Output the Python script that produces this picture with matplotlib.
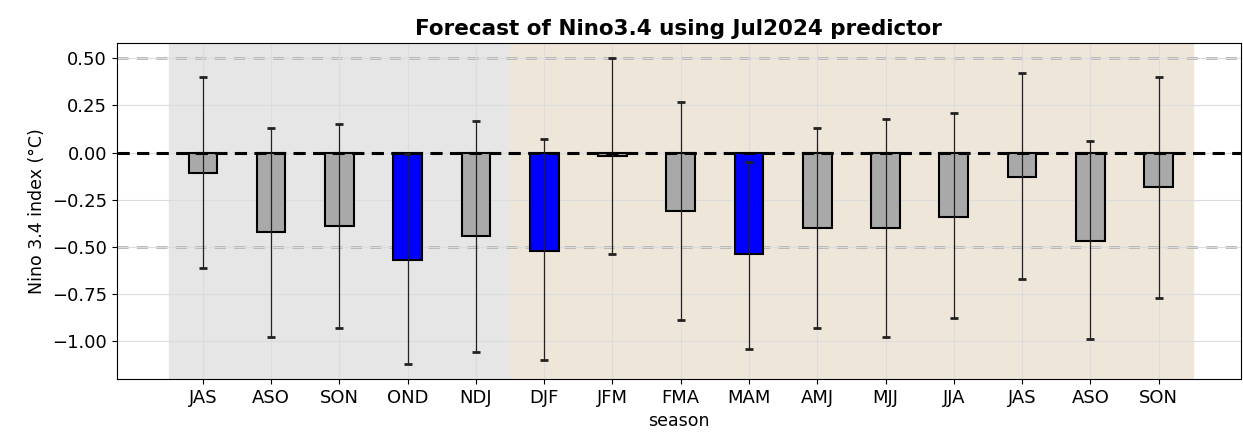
import numpy as np
import matplotlib.pyplot as plt

# Nino3.4 forecast by season, Jul2024 predictor
seasons = ['JAS', 'ASO', 'SON', 'OND', 'NDJ', 'DJF', 'JFM', 'FMA',
           'MAM', 'AMJ', 'MJJ', 'JJA', 'JAS', 'ASO', 'SON']
mean = [-0.11, -0.42, -0.39, -0.57, -0.44, -0.52, -0.02, -0.31,
        -0.54, -0.40, -0.40, -0.34, -0.13, -0.47, -0.18]
upper = [0.40, 0.13, 0.15, -0.01, 0.17, 0.07, 0.50, 0.27,
         -0.05, 0.13, 0.18, 0.21, 0.42, 0.06, 0.40]
lower = [-0.61, -0.98, -0.93, -1.12, -1.06, -1.10, -0.54, -0.89,
         -1.04, -0.93, -0.98, -0.88, -0.67, -0.99, -0.77]

x = np.arange(len(seasons))
mean = np.array(mean)
yerr = [mean - np.array(lower), np.array(upper) - mean]
colors = ['blue' if m <= -0.5 else '#a9a9a9' for m in mean]

fig = plt.figure(figsize=(12.43, 4.41), dpi=100)
ax = fig.add_axes([0.094, 0.141, 0.904, 0.761])

ax.axvspan(-0.5, 4.5, color='#e6e6e6', zorder=0)
ax.axvspan(4.5, 14.5, color='#efe6da', zorder=0)
ax.grid(True, color='#dcdcdc', linewidth=0.8, zorder=0.5)

ax.axhline(0.5, color='#b4b4b4', linestyle=(0, (4, 3)), linewidth=2, zorder=1)
ax.axhline(-0.5, color='#b4b4b4', linestyle=(0, (4, 3)), linewidth=2, zorder=1)

ax.bar(x, mean, width=0.42, color=colors, edgecolor='black', linewidth=1.5, zorder=2)
ax.errorbar(x, mean, yerr=yerr, fmt='none', ecolor='#222222', elinewidth=0.9,
            capsize=3, capthick=2, zorder=3)
ax.axhline(0, color='black', linestyle=(0, (4, 2.4)), linewidth=2.2, zorder=4)

ax.set_xticks(x)
ax.set_xticklabels(seasons)
ax.set_xlim(-1.26, 15.2)
ax.set_ylim(-1.2, 0.58)
ax.set_yticks([-1.0, -0.75, -0.5, -0.25, 0.0, 0.25, 0.5])
ax.tick_params(labelsize=13)
ax.set_xlabel('season', fontsize=12.5)
ax.set_ylabel('Nino 3.4 index (°C)', fontsize=12.5)
ax.set_title('Forecast of Nino3.4 using Jul2024 predictor', fontsize=15.5, fontweight='bold')

plt.savefig('out.png', dpi=100)
